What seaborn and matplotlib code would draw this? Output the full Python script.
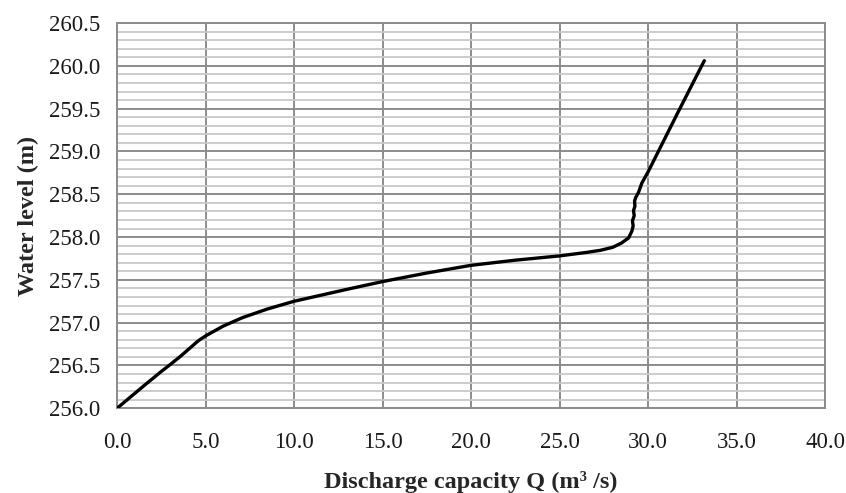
import numpy as np
import pandas as pd
import seaborn as sns
import matplotlib.pyplot as plt
from matplotlib.ticker import MultipleLocator, FormatStrFormatter

# discharge capacity Q (m3/s) and water level (m)
discharge = [0.0, 1.5, 2.5, 3.0, 3.6, 4.1, 4.6, 5.0, 6.0, 7.1, 8.5, 10.0,
             11.5, 13.0, 15.0, 17.5, 20.0, 22.5, 25.0, 26.5, 27.3, 28.0,
             28.5, 28.9, 29.09, 29.16, 29.12, 29.22, 29.18, 29.26, 29.24,
             29.3, 29.46, 29.65, 30.0, 31.7, 33.18]
water_level = [256.0, 256.26, 256.43, 256.51, 256.61, 256.7, 256.79, 256.845,
               256.96, 257.06, 257.16, 257.25, 257.32, 257.39, 257.48, 257.58,
               257.67, 257.73, 257.78, 257.82, 257.845, 257.88, 257.93, 257.99,
               258.07, 258.13, 258.19, 258.25, 258.31, 258.36, 258.42, 258.46,
               258.52, 258.63, 258.76, 259.46, 260.06]

df = pd.DataFrame({"Q": discharge, "H": water_level})

sns.set_style("white")
plt.rcParams['font.family'] = ['Liberation Serif', 'DejaVu Serif']

fig = plt.figure(figsize=(8.46, 4.93), dpi=100)
ax = fig.add_axes([0.1383, 0.1718, 0.8369, 0.7815])

sns.lineplot(data=df, x="Q", y="H", sort=False, estimator=None,
             color="black", linewidth=2.4, ax=ax, zorder=3)

ax.set_xlim(0, 40)
ax.set_ylim(256.0, 260.5)
ax.xaxis.set_major_locator(MultipleLocator(5))
ax.yaxis.set_major_locator(MultipleLocator(0.5))
ax.yaxis.set_minor_locator(MultipleLocator(0.1))
ax.xaxis.set_major_formatter(FormatStrFormatter('%.1f'))
ax.yaxis.set_major_formatter(FormatStrFormatter('%.1f'))

ax.grid(which="minor", axis="y", color="#c8c8c8", linewidth=1.3)
ax.grid(which="major", axis="both", color="#8c8c8c", linewidth=1.4)
ax.set_axisbelow(True)
for s in ax.spines.values():
    s.set_color("#8c8c8c")
    s.set_linewidth(1.4)

ax.tick_params(axis="both", which="both", length=0, labelsize=16.5, colors="#1a1a1a")
ax.tick_params(axis="x", pad=17)
ax.tick_params(axis="y", pad=12)

ax.set_xlabel("Discharge capacity Q (m³ /s)", fontsize=17.5, fontweight="bold", labelpad=13)
ax.set_ylabel("Water level (m)", fontsize=17.5, fontweight="bold", labelpad=7)

plt.savefig("out.png", dpi=100)
